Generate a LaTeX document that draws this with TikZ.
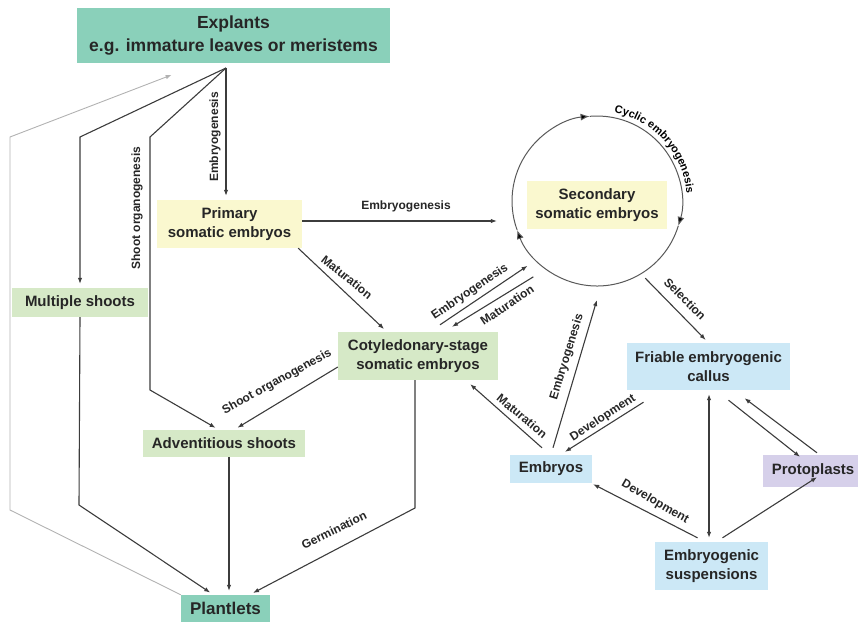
\documentclass[tikz,border=0pt]{standalone}
\usepackage{fontspec}
\setmainfont{Liberation Sans}
\usepackage{tikz}
\usetikzlibrary{calc}
\usetikzlibrary{arrows.meta}
\usetikzlibrary{decorations.text}
\definecolor{explantteal}{RGB}{138, 208, 186}
\definecolor{embryoyellow}{RGB}{250, 248, 207}
\definecolor{shootgreen}{RGB}{214, 233, 199}
\definecolor{callusblue}{RGB}{204, 232, 246}
\definecolor{protolilac}{RGB}{214, 208, 234}
\definecolor{inkgrey}{RGB}{60, 60, 60}

\begin{document}
\begin{tikzpicture}[x=1pt, y=1pt,
    box/.style={inner sep=0pt, align=center, text=black!85,
                font=\fontsize{15}{18.5}\selectfont\bfseries},
    lbl/.style={inner sep=0pt, text=black!85, font=\fontsize{12}{12}\selectfont\bfseries},
    flow/.style={draw=inkgrey, line width=1.1pt, -{Latex[length=6pt,width=4.5pt]},
                 shorten >=4pt},
    back/.style={draw=black!30, line width=0.9pt, -{Latex[length=6pt,width=4.5pt]},
                 shorten >=2pt},
    cyc/.style={draw=black!65, line width=1pt, -{Latex[length=9pt,width=7pt,fill=black]}}]
  \useasboundingbox (0,0) rectangle (858,622);

  % boxes
  \node[box, fill=explantteal, minimum width=313pt, minimum height=55pt,
        font=\fontsize{17.5}{23}\selectfont\bfseries]
        (explants) at (233.5,586.5) {Explants\\e.g. immature leaves or meristems};
  \node[box, fill=embryoyellow, minimum width=145pt, minimum height=48pt]
        (primary) at (229.5,398) {Primary\\somatic embryos};
  \node[box, fill=shootgreen, minimum width=136pt, minimum height=29pt]
        (multiple) at (80,319.5) {Multiple shoots};
  \node[circle, inner sep=0pt, minimum size=170pt] (cycle) at (597,421) {};
  \node[box, fill=embryoyellow, minimum width=140pt, minimum height=48pt]
        (secondary) at (597,417) {Secondary\\somatic embryos};
  \node[box, fill=shootgreen, minimum width=160pt, minimum height=48pt]
        (coty) at (418,266) {Cotyledonary-stage\\somatic embryos};
  \node[box, fill=shootgreen, minimum width=162pt, minimum height=27pt]
        (advent) at (224,178.5) {Adventitious shoots};
  \node[box, fill=explantteal, minimum width=89pt, minimum height=27pt,
        font=\fontsize{17}{20}\selectfont\bfseries]
        (plantlets) at (225.5,13.5) {Plantlets};
  \node[box, fill=callusblue, minimum width=163pt, minimum height=47pt]
        (friable) at (708.5,255.5) {Friable embryogenic\\callus};
  \node[box, fill=callusblue, minimum width=82pt, minimum height=28pt]
        (embryos) at (551,153) {Embryos};
  \node[box, fill=protolilac, minimum width=100pt, minimum height=32pt]
        (proto) at (813,151) {Protoplasts};
  \node[box, fill=callusblue, minimum width=113pt, minimum height=48pt]
        (susp) at (711.5,56) {Embryogenic\\suspensions};

  % cyclic embryogenesis round the secondary embryos
  \draw[cyc] (cycle.center) ++(200:85) arc[start angle=200, end angle=95, radius=85];
  \draw[cyc] (cycle.center) ++(95:85) arc[start angle=95, end angle=-17, radius=85];
  \draw[cyc] (cycle.center) ++(-17:85) arc[start angle=-17, end angle=-160, radius=85];
  \path[decorate, decoration={text along path, text align=center,
        text={|\fontsize{11}{11}\selectfont\bfseries|Cyclic embryogenesis}}]
        (cycle.center) ++(84:90) arc[start angle=84, end angle=0, radius=90];

  % from the explants
  \coordinate (hub) at (226,554);
  \draw[flow] (hub) -- (hub |- primary.north);
  \draw[flow] (hub) -- (80,485) -- (multiple.north);
  \draw[flow] (hub) -- (150,485) -- (150,232) -- ([xshift=-5]advent.north);
  \draw[back] (plantlets.north west) -- (10,112) -- (10,485)
        -- ($(explants.south)+(-60,-11)$);

  % towards the plantlets
  \draw[flow] (multiple.south) -- (79,117) -- ([xshift=-12]plantlets.north);
  \draw[flow] ([xshift=3.5]plantlets.north |- advent.south) -- ([xshift=3.5]plantlets.north);
  \draw[flow] ([xshift=-3]coty.south) -- (415,114) -- ([xshift=24]plantlets.north);
  \draw[flow] ([yshift=-11]coty.west) -- ([xshift=10]advent.north);

  % primary embryos
  \draw[flow, shorten >=15pt] ([yshift=3]primary.east) -- ([yshift=3]primary.east -| cycle.west);
  \draw[flow] ([xshift=-4]primary.south east) -- ([xshift=-31]coty.north);

  % secondary and cotyledonary embryos
  \draw[flow, shorten >=0pt] ([xshift=22,yshift=7]coty.north) -- ($(cycle.center)+(223:95)$);
  \draw[flow, shorten >=0pt] ($(cycle.center)+(230:99)$) -- ([xshift=34,yshift=5]coty.north);
  \draw[flow, shorten >=0pt] ([xshift=-9,yshift=7]embryos.north) -- ([xshift=-28,yshift=-4]coty.south east);
  \draw[flow] ([xshift=2,yshift=7]embryos.north) -- ($(cycle.south)+(1,-10)$);
  \draw[flow] ($(cycle.center)+(-58:91)$) -- (friable.north);

  % callus, suspensions and protoplasts
  \draw[flow, shorten >=0pt] ($(friable.south)+(-65,-12)$) -- ([xshift=14,yshift=3]embryos.north);
  \draw[flow, {Latex[length=6pt,width=4.5pt]}-{Latex[length=6pt,width=4.5pt]}, shorten <=4pt]
        ([xshift=0.5]friable.south) -- ([xshift=0.5]friable.south |- susp.north);
  \draw[flow, shorten >=0pt] ($(friable.south)+(20,-10)$) -- ([xshift=-13,yshift=-2]proto.north);
  \draw[flow, shorten >=0pt] ([xshift=4,yshift=2]proto.north) -- ($(friable.south)+(36,-8)$);
  \draw[flow, shorten >=0pt] ([xshift=11,yshift=4]susp.north) -- ([xshift=4,yshift=10]proto.south);
  \draw[flow, shorten >=0pt] ([xshift=-14,yshift=4]susp.north) -- ([xshift=1,yshift=-1]embryos.south east);

  % edge labels
  \node[lbl, rotate=90] (lembryo) at (215,485) {Embryogenesis};
  \node[lbl, rotate=90] (lshoot) at (137,414) {Shoot organogenesis};
  \node[lbl] (lsecond) at (406,416) {Embryogenesis};
  \node[lbl, rotate=-39] (lmatur) at (347,345) {Maturation};
  \node[lbl, rotate=34] (lcycin) at (470,330) {Embryogenesis};
  \node[lbl, rotate=34] (lcycout) at (507,317) {Maturation};
  \node[lbl, rotate=73] (lembsec) at (567,265) {Embryogenesis};
  \node[lbl, rotate=-40] (lembmat) at (522,206) {Maturation};
  \node[lbl, rotate=33] (ldevcal) at (603,204) {Development};
  \node[lbl, rotate=-45] (lselect) at (685,323) {Selection};
  \node[lbl, rotate=-30] (ldevsus) at (655,120) {Development};
  \node[lbl, rotate=29] (ladvent) at (277,240) {Shoot organogenesis};
  \node[lbl, rotate=26] (lgerm) at (334,92) {Germination};
\end{tikzpicture}
\end{document}
